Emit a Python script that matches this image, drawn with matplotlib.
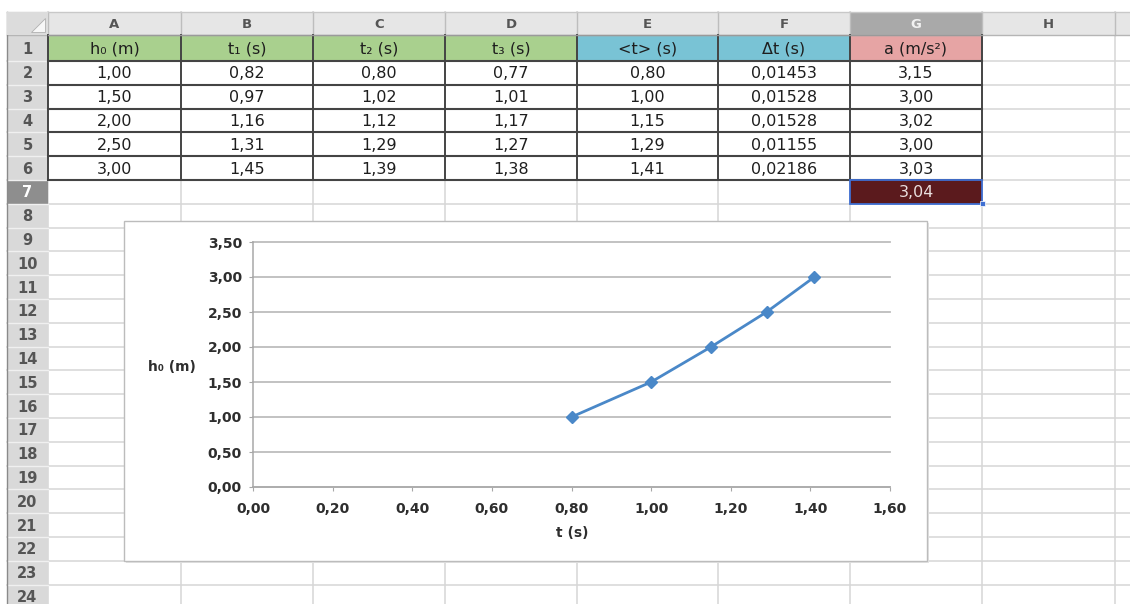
import matplotlib
matplotlib.use("Agg")
import matplotlib.pyplot as plt
from matplotlib.patches import Rectangle, Polygon
from matplotlib.ticker import FuncFormatter, MultipleLocator

# ---------------- data ----------------
col_letters = ["A", "B", "C", "D", "E", "F", "G", "H"]
headers = ["h\u2080 (m)", "t\u2081 (s)", "t\u2082 (s)", "t\u2083 (s)", "<t> (s)", "\u0394t (s)", "a (m/s\u00b2)"]
h0 = [1.00, 1.50, 2.00, 2.50, 3.00]
t1 = [0.82, 0.97, 1.16, 1.31, 1.45]
t2 = [0.80, 1.02, 1.12, 1.29, 1.39]
t3 = [0.77, 1.01, 1.17, 1.27, 1.38]
t_mean = [0.80, 1.00, 1.15, 1.29, 1.41]
dt = [0.01453, 0.01528, 0.01528, 0.01155, 0.02186]
acc = [3.15, 3.00, 3.02, 3.00, 3.03]
acc_mean = 3.04
x_label = "t (s)"
y_label = "h\u2080 (m)"

def fmt(v, n=2):
    return f"{v:.{n}f}".replace(".", ",")

# ---------------- figure ----------------
W, H = 1130, 604
fig = plt.figure(figsize=(W / 100, H / 100), dpi=100)
fig.patch.set_facecolor("white")
bg = fig.add_axes([0, 0, 1, 1])
bg.set_xlim(0, W)
bg.set_ylim(H, 0)
bg.axis("off")

# geometry of the sheet
col_x = [48, 181, 313, 445, 577, 718, 850, 982, 1115, 1130]
sheet_left, sheet_top, hdr_bot = 7, 12, 35
row_top = {1: 35}
row_bot = {1: 61}
rh = 23.8
for r in range(2, 26):
    row_top[r] = 61 + (r - 2) * rh
    row_bot[r] = 61 + (r - 1) * rh

grid_c = "#d6d6d6"
# light gridlines
for x in col_x[:-1]:
    bg.plot([x, x], [sheet_top, H], color=grid_c, lw=1.1, zorder=1)
for r in range(1, 26):
    bg.plot([sheet_left, W], [row_bot[r], row_bot[r]], color=grid_c, lw=1.1, zorder=1)

# column header band
bg.add_patch(Rectangle((sheet_left, sheet_top), W - sheet_left, hdr_bot - sheet_top,
                       facecolor="#e6e6e6", edgecolor="none", zorder=2))
for i, x in enumerate(col_x[:-1]):
    x2 = col_x[i + 1]
    selected = col_letters[i] == "G" if i < len(col_letters) else False
    if selected:
        bg.add_patch(Rectangle((x, sheet_top), x2 - x, hdr_bot - sheet_top,
                               facecolor="#a9a9a9", edgecolor="none", zorder=2.5))
    bg.plot([x, x], [sheet_top, hdr_bot], color="#bdbdbd", lw=1.0, zorder=3)
    if i < len(col_letters):
        bg.text((x + x2) / 2, (sheet_top + hdr_bot) / 2 + 1, col_letters[i],
                ha="center", va="center", fontsize=9.5, fontweight="bold",
                color="#f2f2f2" if selected else "#555555", zorder=4)
bg.plot([sheet_left, W], [hdr_bot, hdr_bot], color="#b5b5b5", lw=1.0, zorder=3)
bg.plot([sheet_left, W], [sheet_top, sheet_top], color="#c8c8c8", lw=1.0, zorder=3)

# row header band
bg.add_patch(Rectangle((sheet_left, hdr_bot), col_x[0] - sheet_left, H - hdr_bot,
                       facecolor="#d9d9d9", edgecolor="none", zorder=2))
for r in range(1, 25):
    selected = r == 7
    if selected:
        bg.add_patch(Rectangle((sheet_left, row_top[r]), col_x[0] - sheet_left,
                               row_bot[r] - row_top[r], facecolor="#8e8e8e",
                               edgecolor="none", zorder=2.5))
    bg.plot([sheet_left, col_x[0]], [row_bot[r], row_bot[r]], color="#f0f0f0", lw=1.0, zorder=3)
    bg.text((sheet_left + col_x[0]) / 2, (row_top[r] + row_bot[r]) / 2 + 1, str(r),
            ha="center", va="center", fontsize=10.5, fontweight="bold",
            color="#ffffff" if selected else "#555555", zorder=4)
bg.plot([sheet_left, sheet_left], [sheet_top, H], color="#8a8a8a", lw=1.0, zorder=3)

# corner cell
bg.add_patch(Rectangle((sheet_left, sheet_top), col_x[0] - sheet_left, hdr_bot - sheet_top,
                       facecolor="#dcdcdc", edgecolor="none", zorder=3))
bg.add_patch(Polygon([[31, 32], [45, 32], [45, 18]], closed=True,
                     facecolor="#f7f7f7", edgecolor="#b0b0b0", lw=0.6, zorder=4))

# header row fills
head_cols = ["#a9d08e"] * 4 + ["#79c3d5"] * 2 + ["#e6a4a4"]
for i in range(7):
    bg.add_patch(Rectangle((col_x[i], row_top[1]), col_x[i + 1] - col_x[i],
                           row_bot[1] - row_top[1], facecolor=head_cols[i],
                           edgecolor="none", zorder=2))
    bg.text((col_x[i] + col_x[i + 1]) / 2, (row_top[1] + row_bot[1]) / 2 + 1, headers[i],
            ha="center", va="center", fontsize=11.5, color="#1e1e1e", zorder=6)

# data rows
columns = [[fmt(v) for v in h0], [fmt(v) for v in t1], [fmt(v) for v in t2],
           [fmt(v) for v in t3], [fmt(v) for v in t_mean], [fmt(v, 5) for v in dt],
           [fmt(v) for v in acc]]
for i, col in enumerate(columns):
    for j, s in enumerate(col):
        r = j + 2
        bg.add_patch(Rectangle((col_x[i], row_top[r]), col_x[i + 1] - col_x[i],
                               row_bot[r] - row_top[r], facecolor="white",
                               edgecolor="none", zorder=2))
        bg.text((col_x[i] + col_x[i + 1]) / 2, (row_top[r] + row_bot[r]) / 2 + 1, s,
                ha="center", va="center", fontsize=11.5, color="#1e1e1e", zorder=6)

# dark table borders
dark = "#444444"
for i in range(8):
    bg.plot([col_x[i], col_x[i]], [row_top[1], row_bot[6]], color=dark, lw=1.4, zorder=5)
for r in range(1, 7):
    bg.plot([col_x[0], col_x[7]], [row_bot[r], row_bot[r]], color=dark, lw=1.5, zorder=5)
bg.plot([col_x[0], col_x[7]], [row_top[1], row_top[1]], color="#9a9a9a", lw=1.0, zorder=5)

# selected mean cell G7
bg.add_patch(Rectangle((col_x[6], row_top[7]), col_x[7] - col_x[6], row_bot[7] - row_top[7],
                       facecolor="#5b1a1d", edgecolor="#3f6fd2", lw=1.3, zorder=5))
bg.add_patch(Rectangle((col_x[7] - 2.5, row_bot[7] - 2.5), 5, 5,
                       facecolor="#3f6fd2", edgecolor="white", lw=0.5, zorder=6))
bg.text((col_x[6] + col_x[7]) / 2, (row_top[7] + row_bot[7]) / 2 + 1, fmt(acc_mean),
        ha="center", va="center", fontsize=11.5, color="#eadede", zorder=6)

# chart box
bg.add_patch(Rectangle((126, 223), 803, 340, facecolor="#e4e4e4", edgecolor="none", zorder=7))
bg.add_patch(Rectangle((124, 221), 803, 340, facecolor="white", edgecolor="#bcbcbc",
                       lw=1.0, zorder=8))

# ---------------- chart ----------------
ax_l, ax_r, ax_t, ax_b = 253, 890, 242, 487
ax = fig.add_axes([ax_l / W, 1 - ax_b / H, (ax_r - ax_l) / W, (ax_b - ax_t) / H])
ax.set_facecolor("none")
ax.plot(t_mean, h0, color="#4a88c8", lw=2.0, marker="D", markersize=6,
        markerfacecolor="#4a88c8", markeredgecolor="#4a88c8", zorder=5, clip_on=False)
ax.set_xlim(0, 1.6)
ax.set_ylim(0, 3.5)
ax.xaxis.set_major_locator(MultipleLocator(0.2))
ax.yaxis.set_major_locator(MultipleLocator(0.5))
comma = FuncFormatter(lambda v, p: fmt(v))
ax.xaxis.set_major_formatter(comma)
ax.yaxis.set_major_formatter(comma)
ax.grid(axis="y", color="#bdbdbd", lw=1.3)
ax.set_axisbelow(True)
for s in ["top", "right"]:
    ax.spines[s].set_visible(False)
for s in ["left", "bottom"]:
    ax.spines[s].set_color("#a8a8a8")
    ax.spines[s].set_linewidth(1.1)
ax.tick_params(axis="y", direction="out", length=3, color="#a8a8a8", pad=5,
               labelsize=10, labelcolor="#2e2e2e")
ax.tick_params(axis="x", direction="out", length=3, color="#a8a8a8", pad=8,
               labelsize=10, labelcolor="#2e2e2e")
for lab in ax.get_xticklabels() + ax.get_yticklabels():
    lab.set_fontweight("bold")
for gl in ax.yaxis.get_gridlines():
    gl.set_clip_on(False)

ax.set_ylabel(y_label, rotation=0, fontsize=10, fontweight="bold", color="#2e2e2e",
              ha="center", va="center")
ax.yaxis.set_label_coords((172 - ax_l) / (ax_r - ax_l), (ax_b - 367) / (ax_b - ax_t))
ax.set_xlabel(x_label, fontsize=10, fontweight="bold", color="#2e2e2e", va="center")
ax.xaxis.set_label_coords((572 - ax_l) / (ax_r - ax_l), (ax_b - 533) / (ax_b - ax_t))

fig.savefig("out.png", dpi=100, facecolor="white")
